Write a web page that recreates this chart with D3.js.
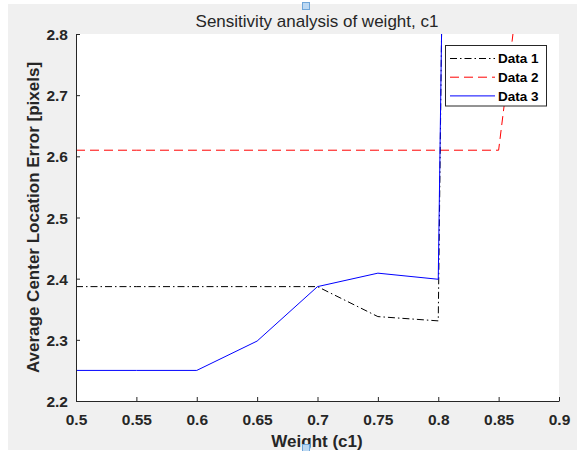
<!DOCTYPE html>
<html><head><meta charset="utf-8">
<script src="https://cdn.jsdelivr.net/npm/d3@7"></script>
<style>html,body{margin:0;padding:0;background:#fff;}svg{display:block;}</style>
</head><body>
<svg id="chart" width="581" height="451"></svg>
<script>
const weights = [0.5, 0.55, 0.6, 0.65, 0.7, 0.75, 0.8, 0.85];
const data1 = [2.387, 2.387, 2.387, 2.387, 2.387, 2.338, 2.331, 10.9];
const data2 = [2.61, 2.61, 2.61, 2.61, 2.61, 2.61, 2.61, 2.61];
const data2Extra = {x: 0.9, y: 3.41};
const data3 = [2.25, 2.25, 2.25, 2.298, 2.387, 2.409, 2.399, 9.7];
const xTicks = [0.5, 0.55, 0.6, 0.65, 0.7, 0.75, 0.8, 0.85, 0.9];
const yTicks = [2.2, 2.3, 2.4, 2.5, 2.6, 2.7, 2.8];
const seriesNames = ["Data 1", "Data 2", "Data 3"];

const svg = d3.select("#chart");
const font = "'Liberation Sans', Arial, Helvetica, sans-serif";
const axisColor = "#262626";

// figure background
svg.append("rect").attr("x", 8).attr("y", 4).attr("width", 569).attr("height", 446).attr("fill", "#f0f0f0");

const L = 76, R = 559, T = 34, B = 401;
svg.append("rect").attr("x", L).attr("y", T).attr("width", R - L).attr("height", B - T).attr("fill", "#fff");

const x = d3.scaleLinear().domain([0.5, 0.9]).range([L, R]);
const y = d3.scaleLinear().domain([2.2, 2.8]).range([B, T]);

svg.append("defs").append("clipPath").attr("id", "clip")
  .append("rect").attr("x", L).attr("y", T).attr("width", R - L).attr("height", B - T);

const line = d3.line().x(d => x(d[0])).y(d => y(d[1]));
const s1 = weights.map((w, i) => [w, data1[i]]);
const s2 = weights.map((w, i) => [w, data2[i]]).concat([[data2Extra.x, data2Extra.y]]);
const s3 = weights.map((w, i) => [w, data3[i]]);

const styles = [
  {stroke: "#000", dash: "7,3,1.5,3", width: 1},
  {stroke: "#ff0000", dash: "9,5", width: 1},
  {stroke: "#0000ff", dash: null, width: 1}
];
const g = svg.append("g").attr("clip-path", "url(#clip)");
[s2, s1, s3].forEach((s, k) => {
  const idx = [1, 0, 2][k];
  const st = styles[idx];
  g.append("path").datum(s).attr("d", line).attr("fill", "none")
    .attr("stroke", st.stroke).attr("stroke-width", st.width)
    .attr("stroke-dasharray", st.dash);
});

// axes
const xAxis = d3.axisBottom(x).tickValues(xTicks).tickSize(-4).tickSizeOuter(0)
  .tickFormat(d => d3.format("")(+d.toFixed(2)));
const yAxis = d3.axisLeft(y).tickValues(yTicks).tickSize(-4).tickSizeOuter(0)
  .tickFormat(d => d.toFixed(1));

const gx = svg.append("g").attr("transform", `translate(0,${B})`).call(xAxis);
const gy = svg.append("g").attr("transform", `translate(${L},0)`).call(yAxis);
[gx, gy].forEach(a => {
  a.select(".domain").attr("stroke", axisColor).attr("stroke-width", 1);
  a.selectAll(".tick line").attr("stroke", axisColor);
  a.selectAll(".tick text").attr("fill", axisColor).attr("font-family", font)
    .attr("font-weight", "bold").attr("font-size", "15.5px");
});
gx.selectAll(".tick text").attr("dy", null).attr("y", 24);
gy.selectAll(".tick text").attr("x", -8).attr("dy", "0.36em");

// title
svg.append("text").attr("x", 317).attr("y", 26.5).attr("text-anchor", "middle")
  .attr("font-family", font).attr("font-size", "17px").attr("fill", axisColor)
  .text("Sensitivity analysis of weight, c1");

// axis labels
svg.append("text").attr("x", 317).attr("y", 447).attr("text-anchor", "middle")
  .attr("font-family", font).attr("font-size", "17px").attr("font-weight", "bold").attr("fill", axisColor)
  .text("Weight (c1)");
svg.append("text").attr("transform", `translate(38.5,${(T + B) / 2}) rotate(-90)`).attr("text-anchor", "middle")
  .attr("font-family", font).attr("font-size", "17px").attr("font-weight", "bold").attr("fill", axisColor)
  .text("Average Center Location Error [pixels]");

// legend
const lg = svg.append("g");
lg.append("rect").attr("x", 445.5).attr("y", 45.5).attr("width", 101).attr("height", 60.5)
  .attr("fill", "#fff").attr("stroke", axisColor).attr("stroke-width", 1);
seriesNames.forEach((name, i) => {
  const yy = 58.5 + i * 18.7;
  const st = styles[i];
  lg.append("line").attr("x1", 450).attr("x2", 495).attr("y1", yy).attr("y2", yy)
    .attr("stroke", st.stroke).attr("stroke-width", st.width).attr("stroke-dasharray", st.dash);
  lg.append("text").attr("x", 498).attr("y", yy + 4.8).attr("font-family", font)
    .attr("font-size", "13.5px").attr("font-weight", "bold").attr("fill", "#000").text(name);
});

// edit handles
svg.append("rect").attr("x", 302.5).attr("y", 2.5).attr("width", 7).attr("height", 7)
  .attr("fill", "#bcd8f2").attr("stroke", "#6fa6d9").attr("stroke-width", 1);
svg.append("rect").attr("x", 302.5).attr("y", 444.5).attr("width", 7).attr("height", 7)
  .attr("fill", "#bcd8f2").attr("stroke", "#6fa6d9").attr("stroke-width", 1);
</script>
</body></html>
